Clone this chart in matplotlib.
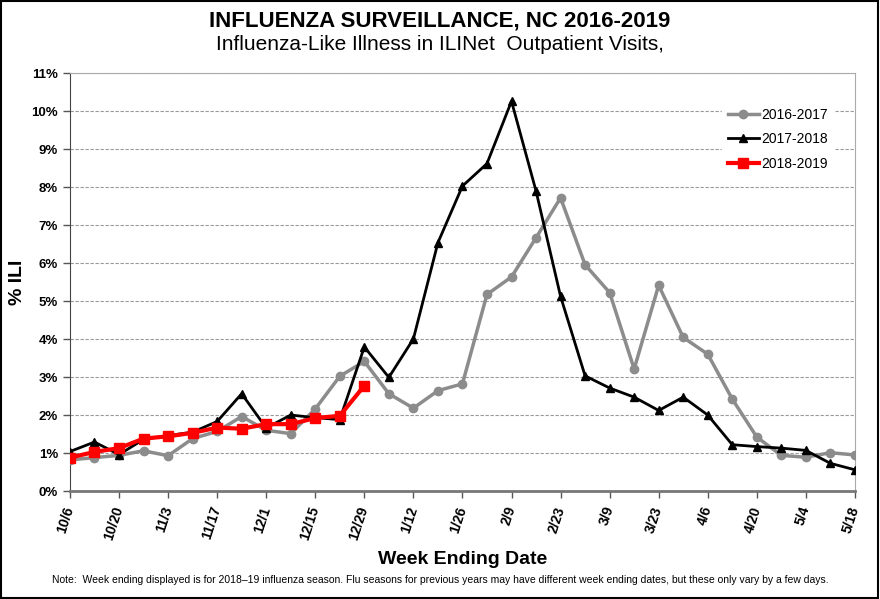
import matplotlib
matplotlib.use('Agg')
import matplotlib.pyplot as plt
from matplotlib.patches import Rectangle
from matplotlib.ticker import PercentFormatter

plt.rcParams['font.family'] = ['Liberation Sans Narrow', 'Liberation Sans', 'DejaVu Sans']

# week ending dates (2018-19 season)
weeks = ["10/6", "10/13", "10/20", "10/27", "11/3", "11/10", "11/17", "11/24",
         "12/1", "12/8", "12/15", "12/22", "12/29", "1/5", "1/12", "1/19",
         "1/26", "2/2", "2/9", "2/16", "2/23", "3/2", "3/9", "3/16", "3/23",
         "3/30", "4/6", "4/13", "4/20", "4/27", "5/4", "5/11", "5/18"]

ili_2016 = [0.83, 0.89, 0.95, 1.07, 0.94, 1.39, 1.58, 1.97, 1.61, 1.52, 2.17,
            3.03, 3.42, 2.57, 2.19, 2.65, 2.83, 5.18, 5.64, 6.67, 7.72, 5.96,
            5.23, 3.22, 5.42, 4.05, 3.61, 2.43, 1.43, 0.95, 0.90, 1.02, 0.96]
ili_2017 = [1.05, 1.30, 0.97, 1.37, 1.47, 1.56, 1.84, 2.57, 1.67, 2.01, 1.94,
            1.89, 3.80, 3.00, 4.01, 6.54, 8.03, 8.62, 10.26, 7.90, 5.13, 3.04,
            2.72, 2.48, 2.13, 2.48, 2.01, 1.23, 1.18, 1.14, 1.08, 0.74, 0.57]
ili_2018 = [0.89, 1.04, 1.14, 1.39, 1.45, 1.54, 1.68, 1.65, 1.77, 1.77, 1.93,
            1.99, 2.78]

fig = plt.figure(figsize=(8.8, 5.99), dpi=100)
ax = fig.add_axes([0.0795, 0.1795, 0.892, 0.6985])

x = list(range(len(weeks)))
ax.plot(x, ili_2016, color="#8c8c8c", lw=2.5, marker="o", ms=6, label="2016-2017", zorder=3)
ax.plot(x, ili_2017, color="black", lw=2, marker="^", ms=6, label="2017-2018", zorder=4)
ax.plot(x[:len(ili_2018)], ili_2018, color="#ff0000", lw=3, marker="s", ms=6.5,
        label="2018-2019", zorder=5)

ax.set_xlim(0, len(weeks) - 1)
ax.set_ylim(0, 11)
ax.set_yticks(range(0, 12))
ax.yaxis.set_major_formatter(PercentFormatter(decimals=0))
ax.set_xticks(x[::2])
ax.set_xticklabels(weeks[::2], rotation=72, ha="right", va="center",
                   rotation_mode="anchor", fontweight="bold", fontsize=10)
for lbl in ax.get_yticklabels():
    lbl.set_fontweight("bold")
    lbl.set_fontsize(9.5)
ax.tick_params(axis="both", direction="out", length=5, width=1, color="#555555")
ax.tick_params(axis="x", pad=6)

ax.grid(axis="y", linestyle=(0, (3, 1.5)), color="#9a9a9a", lw=0.8)
ax.set_axisbelow(True)
ax.spines["left"].set_color("#444444")
ax.spines["bottom"].set_color("#777777")
ax.spines["bottom"].set_linewidth(2)
ax.spines["top"].set_color("#aaaaaa")
ax.spines["right"].set_color("#aaaaaa")

ax.set_ylabel("% ILI", fontsize=14, fontweight="bold")
ax.yaxis.set_label_coords(-0.056, 0.5)
ax.set_xlabel("Week Ending Date", fontsize=14, fontweight="bold")
ax.xaxis.set_label_coords(0.5, -0.142)

leg = ax.legend(loc="upper right", bbox_to_anchor=(0.978, 0.94), frameon=True,
                fontsize=10, handlelength=2.2, handletextpad=0.2, labelspacing=0.75,
                borderaxespad=0.3)
leg.get_frame().set_edgecolor("white")
leg.get_frame().set_facecolor("white")
leg.get_frame().set_alpha(1)

fig.text(0.5, 0.965, "INFLUENZA SURVEILLANCE, NC 2016-2019", ha="center", va="center",
         fontsize=16, fontweight="bold")
fig.text(0.5, 0.925, "Influenza-Like Illness in ILINet  Outpatient Visits,", ha="center",
         va="center", fontsize=15)
fig.text(0.5, 0.032, "Note:  Week ending displayed is for 2018\u201319 influenza season. "
         "Flu seasons for previous years may have different week ending dates, "
         "but these only vary by a few days.", ha="center", va="center", fontsize=7.5)

fig.patches.append(Rectangle((0.001, 0.002), 0.997, 0.996, transform=fig.transFigure,
                             fill=False, edgecolor="black", lw=1.5))

fig.savefig("out.png", dpi=100)
